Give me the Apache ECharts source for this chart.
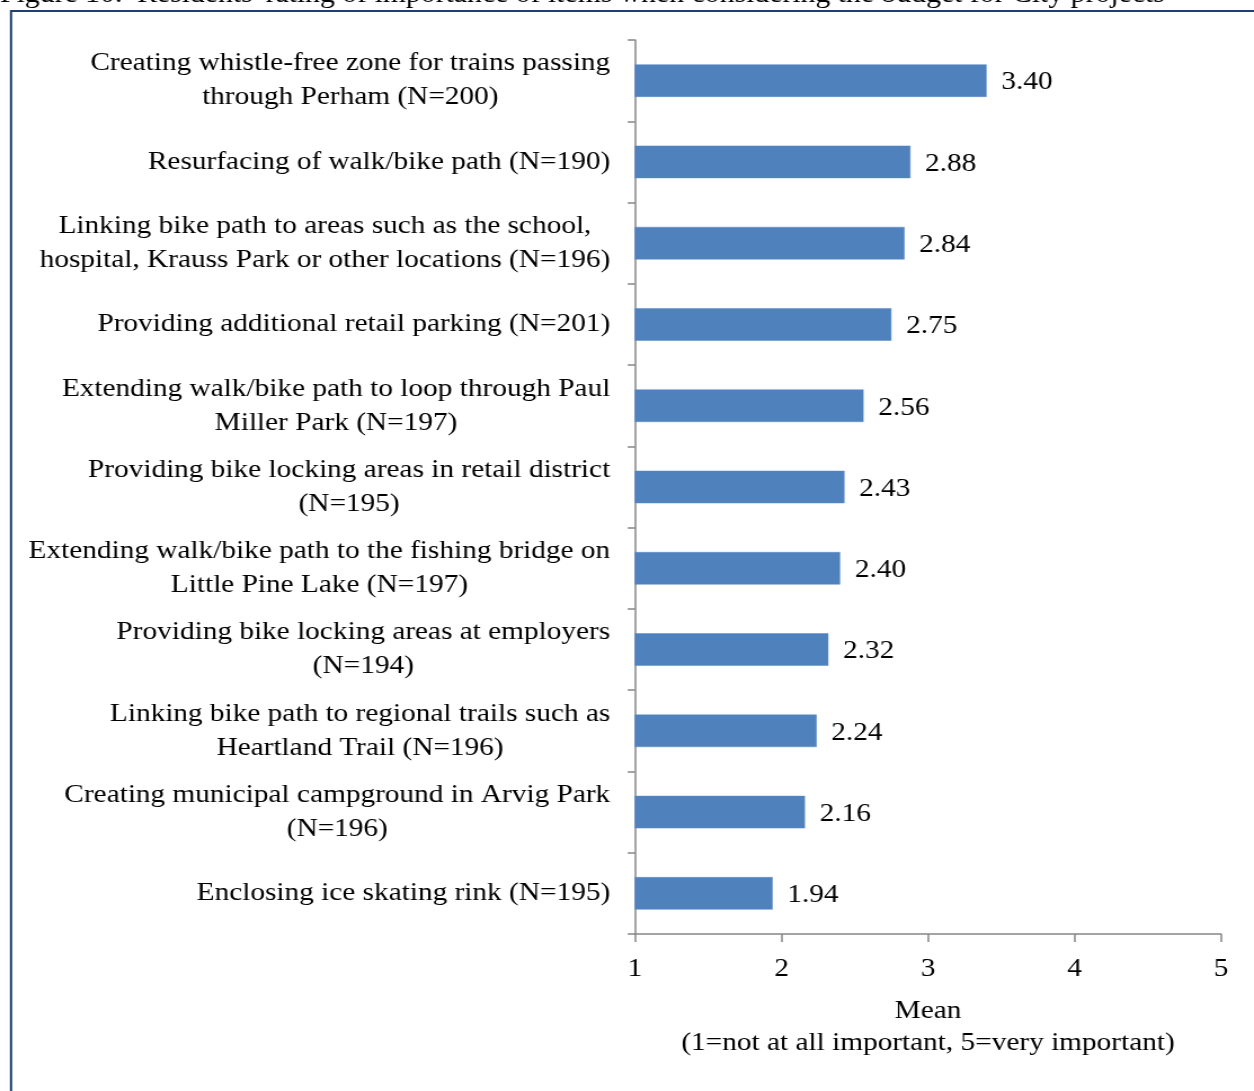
<!DOCTYPE html>
<html>
<head>
<meta charset="utf-8">
<title>Residents' rating of importance of items</title>
<script src="https://cdn.jsdelivr.net/npm/echarts@6/dist/echarts.min.js"></script>
<style>
  html, body { margin: 0; padding: 0; background: #ffffff; overflow: hidden; }
  /* The figure is typeset narrow and widened horizontally as a whole */
  #chart { width: 1113px; height: 1091px; transform: scaleX(1.1267); transform-origin: 0 0; }
</style>
</head>
<body>
<div id="chart"></div>
<script>
// Survey items (each entry is split into its printed lines)
const items = [
  ['Creating whistle-free zone for trains passing', 'through Perham (N=200)'],
  ['Resurfacing of walk/bike path (N=190)'],
  ['Linking bike path to areas such as the school,', 'hospital, Krauss Park or other locations (N=196)'],
  ['Providing additional retail parking (N=201)'],
  ['Extending walk/bike path to loop through Paul', 'Miller Park (N=197)'],
  ['Providing bike locking areas in retail district', '(N=195)'],
  ['Extending walk/bike path to the fishing bridge on', 'Little Pine Lake (N=197)'],
  ['Providing bike locking areas at employers', '(N=194)'],
  ['Linking bike path to regional trails such as', 'Heartland Trail (N=196)'],
  ['Creating municipal campground in Arvig Park', '(N=196)'],
  ['Enclosing ice skating rink (N=195)']
];

// Mean rating for each item
const means = [3.40, 2.88, 2.84, 2.75, 2.56, 2.43, 2.40, 2.32, 2.24, 2.16, 1.94];

// Rating scale ticks
const scaleMin = 1;
const scaleMax = 5;
const scaleStep = 1;

const titleText = "Figure 10.  Residents' rating of importance of items when considering the budget for City projects";
const axisTitle = 'Mean\n(1=not at all important, 5=very important)';

const FONT = '"Liberation Serif", "Times New Roman", serif';
const AXIS_GREY = '#868686';

const categories = items.map(lines => lines.join('\n'));

const chart = echarts.init(document.getElementById('chart'), null, { renderer: 'canvas' });

chart.setOption({
  animation: false,
  backgroundColor: '#ffffff',
  textStyle: { fontFamily: FONT },
  graphic: [
    {
      type: 'rect',
      shape: { x: 9.8, y: 11, width: 1400, height: 1200 },
      style: { fill: 'none', stroke: '#1F3F6C', lineWidth: 2 },
      silent: true
    },
    {
      type: 'text',
      left: 0,
      top: -18,
      style: {
        text: titleText,
        font: '26.4px ' + FONT,
        fill: '#000000'
      },
      silent: true
    }
  ],
  grid: {
    left: 563.6,
    right: 29.3,
    top: 40,
    bottom: 157,
    containLabel: false
  },
  xAxis: {
    type: 'value',
    min: scaleMin,
    max: scaleMax,
    interval: scaleStep,
    name: axisTitle,
    nameLocation: 'middle',
    nameGap: 61,
    nameTextStyle: {
      fontFamily: FONT,
      fontSize: 26,
      lineHeight: 32,
      color: '#000000',
      verticalAlign: 'top'
    },
    axisLine: { show: true, lineStyle: { color: AXIS_GREY, width: 1.5 } },
    axisTick: { show: true, length: 8, lineStyle: { color: AXIS_GREY, width: 1.5 } },
    axisLabel: {
      margin: 22,
      fontFamily: FONT,
      fontSize: 26,
      color: '#000000'
    },
    splitLine: { show: false }
  },
  yAxis: {
    type: 'category',
    data: categories,
    inverse: true,
    axisLine: { show: true, lineStyle: { color: AXIS_GREY, width: 1.5 } },
    axisTick: { show: true, length: 6.5, alignWithLabel: false, lineStyle: { color: AXIS_GREY, width: 1.5 } },
    axisLabel: {
      margin: 22,
      align: 'right',
      formatter: function (value) {
        return value.split('\n').map(line => '{t|' + line + '}').join('\n');
      },
      rich: {
        t: {
          align: 'center',
          fontFamily: FONT,
          fontSize: 26,
          lineHeight: 34,
          color: '#000000'
        }
      }
    },
    splitLine: { show: false }
  },
  series: [
    {
      type: 'bar',
      data: means,
      barWidth: '40%',
      itemStyle: { color: '#4F81BD', borderColor: '#5B8CC6', borderWidth: 0.5 },
      label: {
        show: true,
        position: 'right',
        distance: 13,
        offset: [0, 2],
        formatter: p => p.value.toFixed(2),
        fontFamily: FONT,
        fontSize: 26,
        color: '#000000'
      }
    }
  ]
});
</script>
</body>
</html>
